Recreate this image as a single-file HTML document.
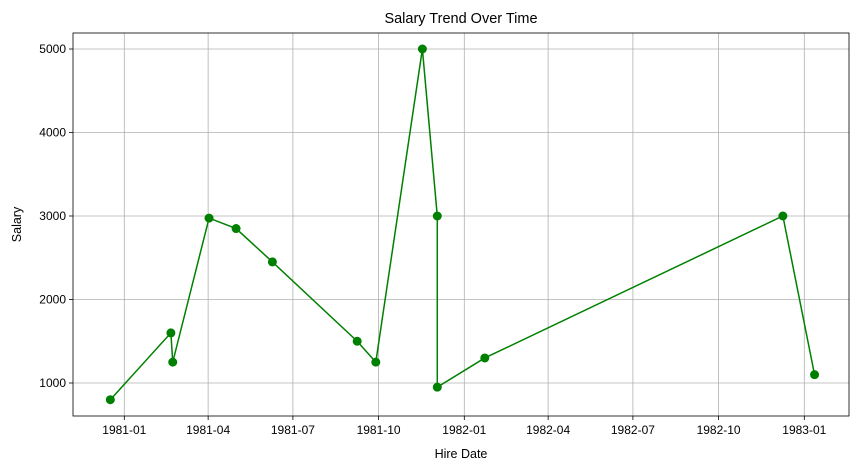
<!DOCTYPE html>
<html><head><meta charset="utf-8"><style>
body{margin:0;background:#fff;font-family:"Liberation Sans","DejaVu Sans",sans-serif}
svg text{font-family:"Liberation Sans","DejaVu Sans",sans-serif}
</style></head><body>
<svg id="c" width="859" height="470" xmlns="http://www.w3.org/2000/svg"></svg>
<script>
const hireDates=["1980-12-17","1981-02-20","1981-02-22","1981-04-02","1981-05-01","1981-06-09","1981-09-08","1981-09-28","1981-11-17","1981-12-03","1981-12-03","1982-01-23","1982-12-09","1983-01-12"];
const salaries=[800,1600,1250,2975,2850,2450,1500,1250,5000,3000,950,1300,3000,1100];
const xTickLabels=["1981-01","1981-04","1981-07","1981-10","1982-01","1982-04","1982-07","1982-10","1983-01"];
const yTickValues=[1000,2000,3000,4000,5000];

const NS="http://www.w3.org/2000/svg";
const svg=document.getElementById('c');
const L=73,R=849,T=33,B=416;
const t0=Date.UTC(1981,0,1),day=86400000;
function xs(d){const [y,m,dd]=d.split('-').map(Number);return 124.3+((Date.UTC(y,m-1,dd)-t0)/day)*(680/730);}
function ys(v){return 383-(v-1000)*(334/4000);}
function mk(tag,attrs,parent){const e=document.createElementNS(NS,tag);for(const k in attrs)e.setAttribute(k,attrs[k]);(parent||svg).appendChild(e);return e;}

const grid=mk('g',{});


xTickLabels.forEach(s=>{
  const x=xs(s+"-01");
  mk('line',{x1:x,x2:x,y1:T,y2:B,stroke:'#b0b0b0','stroke-width':0.8},grid);
  mk('line',{x1:x,x2:x,y1:B,y2:B+4,stroke:'#000','stroke-width':0.8});
  const t=mk('text',{x:x,y:B+18,'text-anchor':'middle','font-size':12,fill:'#000'});
  t.textContent=s;
  
  
});
yTickValues.forEach(v=>{
  const y=ys(v);
  mk('line',{x1:L,x2:R,y1:y,y2:y,stroke:'#b0b0b0','stroke-width':0.8},grid);
  mk('line',{x1:L-4,x2:L,y1:y,y2:y,stroke:'#000','stroke-width':0.8});
  const t=mk('text',{x:L-7,y:y+4,'text-anchor':'end','font-size':12,fill:'#000'});
  t.textContent=v;
  
  
});
const frame=mk('rect',{x:L,y:T,width:R-L,height:B-T,fill:'none',stroke:'#000','stroke-width':0.8});



const pts=hireDates.map((d,i)=>xs(d)+','+ys(salaries[i])).join(' ');
const line=mk('polyline',{points:pts,fill:'none',stroke:'green','stroke-width':1.5});


hireDates.forEach((d,i)=>{
  const c=mk('circle',{cx:xs(d),cy:ys(salaries[i]),r:4.5,fill:'green'});
  
  
});

const title=mk('text',{x:(L+R)/2,y:23,'text-anchor':'middle','font-size':14.5,fill:'#000'});
title.textContent='Salary Trend Over Time';


const xt=mk('text',{x:(L+R)/2,y:458,'text-anchor':'middle','font-size':12.5,fill:'#000'});
xt.textContent='Hire Date';


const yt=mk('text',{x:21,y:(T+B)/2,'text-anchor':'middle','font-size':12.5,fill:'#000',transform:`rotate(-90 21 ${(T+B)/2})`});
yt.textContent='Salary';


</script>
</body></html>
